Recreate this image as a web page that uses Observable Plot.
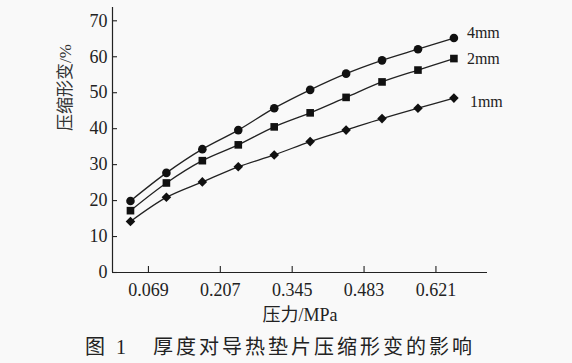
<!DOCTYPE html>
<html>
<head>
<meta charset="utf-8">
<script src="https://cdn.jsdelivr.net/npm/d3@7"></script>
<script src="https://cdn.jsdelivr.net/npm/@observablehq/plot@0.6"></script>
<style>
  html, body { margin: 0; padding: 0; background: #f9f9f9; }
  #chart { width: 572px; height: 325px; }
  #caption {
    width: 572px; text-align: center;
    font-family: "Liberation Serif", "Noto Sans CJK SC", serif;
    font-size: 20px; font-weight: 400; letter-spacing: 3px; color: #222;
    margin-left: -6px; margin-top: 6px;
  }
</style>
</head>
<body>
<div id="chart"></div>
<div id="caption">图 1&nbsp;&nbsp;&nbsp;厚度对导热垫片压缩形变的影响</div>
<script>
const pressure = [0.0345, 0.1035, 0.1725, 0.2415, 0.3105, 0.3795, 0.4485, 0.5175, 0.5865, 0.6555];
const series4mm = [19.9, 27.7, 34.3, 39.6, 45.7, 50.8, 55.3, 59.0, 62.1, 65.2];
const series2mm = [17.2, 24.9, 31.1, 35.5, 40.5, 44.4, 48.7, 53.0, 56.3, 59.5];
const series1mm = [14.2, 20.9, 25.2, 29.4, 32.7, 36.4, 39.6, 42.8, 45.7, 48.5];
const seriesNames = ["4mm", "2mm", "1mm"];
const xTicks = [0.069, 0.207, 0.345, 0.483, 0.621];
const yTicks = [0, 10, 20, 30, 40, 50, 60, 70];
const xLabel = "压力/MPa";
const yLabel = "压缩形变/%";

const allSeries = [series4mm, series2mm, series1mm];
const symbols = ["circle", "square", "diamond2"];
const rows = [];
seriesNames.forEach((name, i) => {
  allSeries[i].forEach((v, j) => rows.push({name, x: pressure[j], y: v}));
});
const lastOf = i => ({name: seriesNames[i], x: pressure[pressure.length - 1], y: allSeries[i][allSeries[i].length - 1]});
const labelOffsets = [[13, -5], [13, 0], [16, 4]];

const font = '"Liberation Serif", "Noto Sans CJK SC", serif';
const W = 572, H = 325, mL = 112, mR = 85, mT = 7, mB = 53;
const frameW = W - mL - mR, frameH = H - mT - mB;

const plot = Plot.plot({
  width: W,
  height: H,
  marginLeft: mL,
  marginRight: mR,
  marginTop: mT,
  marginBottom: mB,
  style: {fontFamily: font, fontSize: "18px", color: "#222", background: "transparent"},
  x: {domain: [0, 0.72]},
  y: {domain: [0, 73.7]},
  symbol: {domain: seriesNames, range: symbols},
  marks: [
    Plot.axisX({ticks: xTicks, tickFormat: d => d.toFixed(3), tickSize: 0, tickPadding: 11,
      label: xLabel, labelAnchor: "center", labelArrow: "none", labelOffset: 48, fontSize: 18,
      style: {letterSpacing: "0.6px"}}),
    Plot.axisY({ticks: yTicks, tickSize: 0, tickPadding: 5, label: null, fontSize: 18,
      style: {letterSpacing: "0.6px"}}),
    Plot.ruleX(xTicks, {insetTop: frameH - 6, stroke: "#222", strokeWidth: 1.1}),
    Plot.ruleY(yTicks, {insetRight: frameW - 5, stroke: "#222", strokeWidth: 1.1}),
    Plot.text([yLabel], {frameAnchor: "left", rotate: -90, dx: -47, dy: -9, fontSize: 17, fill: "#333"}),
    Plot.ruleX([0], {stroke: "#222", strokeWidth: 1.2}),
    Plot.ruleY([0], {stroke: "#222", strokeWidth: 1.2}),
    Plot.line(rows, {x: "x", y: "y", z: "name", curve: "catmull-rom", stroke: "#222", strokeWidth: 1.3}),
    Plot.dot(rows, {x: "x", y: "y", symbol: "name", fill: "#111", stroke: "none", r: 4.3}),
    ...seriesNames.map((n, i) => Plot.text([lastOf(i)], {x: "x", y: "y", text: "name", textAnchor: "start",
      fill: "#222", fontSize: 16, dx: labelOffsets[i][0], dy: labelOffsets[i][1],
      style: {letterSpacing: "1px"}}))
  ]
});

document.getElementById("chart").appendChild(plot);
</script>
</body>
</html>
